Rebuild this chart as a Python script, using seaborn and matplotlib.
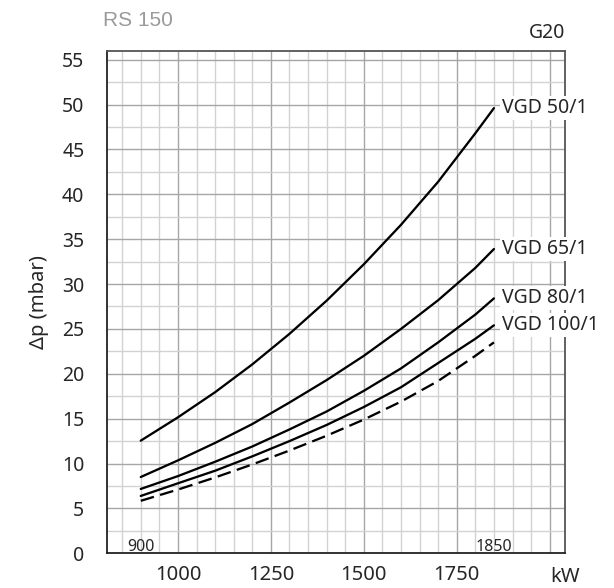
import numpy as np
import pandas as pd
import matplotlib
matplotlib.use("Agg")
import matplotlib.pyplot as plt
import seaborn as sns

# ---- data ----
power_kw = [900, 1000, 1100, 1200, 1300, 1400, 1500, 1600, 1700, 1800, 1850]
vgd_50 = [12.55, 15.15, 17.95, 21.05, 24.45, 28.15, 32.2, 36.6, 41.4, 46.8, 49.6]
vgd_65 = [8.5, 10.35, 12.3, 14.4, 16.8, 19.3, 22.0, 25.0, 28.2, 31.8, 33.9]
vgd_80 = [7.17, 8.6, 10.2, 11.9, 13.8, 15.8, 18.1, 20.6, 23.5, 26.6, 28.4]
vgd_100 = [6.39, 7.8, 9.2, 10.8, 12.5, 14.3, 16.3, 18.5, 21.2, 23.9, 25.4]
head = [5.85, 7.1, 8.45, 9.9, 11.45, 13.1, 14.9, 16.9, 19.2, 22.0, 23.5]
series_names = ["VGD 50/1", "VGD 65/1", "VGD 80/1", "VGD 100/1", "head"]
y_ticks = [0, 5, 10, 15, 20, 25, 30, 35, 40, 45, 50, 55]
x_ticks = [1000, 1250, 1500, 1750]
x_marks = [900, 1850]

sns.set_theme(style="white")
plt.rcParams["font.family"] = ["Noto Sans", "DejaVu Sans"]

frames = []
for name, vals in zip(series_names, [vgd_50, vgd_65, vgd_80, vgd_100, head]):
    frames.append(pd.DataFrame({"kW": power_kw, "dp": vals, "series": name}))
df = pd.concat(frames, ignore_index=True)

W, H = 614, 588
fig = plt.figure(figsize=(W / 100, H / 100), dpi=100)
ax_left, ax_right, ax_top, ax_bottom = 107.3, 565.3, 50.7, 553.3
ax = fig.add_axes([ax_left / W, 1 - ax_bottom / H,
                   (ax_right - ax_left) / W, (ax_bottom - ax_top) / H])

# grid
for x in np.arange(850, 2041, 50):
    dark = (x % 250 == 0)
    ax.axvline(x, color="#a6a6a6" if dark else "#d2d2d2", lw=1.0, zorder=0)
for y in np.arange(2.5, 56, 2.5):
    dark = (y % 5 == 0)
    ax.axhline(y, color="#a6a6a6" if dark else "#d2d2d2", lw=1.0, zorder=0)

palette = {n: "black" for n in series_names}
dashes = {n: "" for n in series_names}
dashes["head"] = (6, 2.8)
sns.lineplot(data=df, x="kW", y="dp", hue="series", style="series",
             palette=palette, dashes=dashes, linewidth=1.65, legend=False,
             ax=ax, zorder=3, sort=False)

ax.set_xlim(810, 2042)
ax.set_ylim(0, 56)

ax.set_xticks(x_ticks)
ax.set_xticks(x_marks, minor=True)
ax.set_xticklabels([str(v) for v in x_ticks])
ax.set_yticks(y_ticks)
ax.set_yticklabels([str(v) for v in y_ticks])
ax.tick_params(axis="y", which="major", direction="inout", length=16, width=1.0,
               color="black", labelsize=14, pad=8.5)
ax.tick_params(axis="x", which="major", direction="inout", length=10.5, width=1.0,
               color="#222222", labelsize=14.5, pad=3.5)
ax.tick_params(axis="x", which="minor", direction="out", length=8.5, width=1.0,
               color="#222222")
ax.set_xlabel("")
ax.set_ylabel("Δp (mbar)", fontsize=14.5, labelpad=9.5)

for s in ["left", "bottom"]:
    ax.spines[s].set_color("#222222")
    ax.spines[s].set_linewidth(1.3)
for s in ["top", "right"]:
    ax.spines[s].set_color("#555555")
    ax.spines[s].set_linewidth(1.3)

# small labels for 900 / 1850 inside plot
for v in x_marks:
    ax.annotate(str(v), xy=(v, 0), xycoords=("data", "axes fraction"),
                xytext=(0, 1.8), textcoords="offset points",
                ha="center", va="baseline", fontsize=11.5, zorder=5)

# curve labels
for name, vals in zip(series_names[:4], [vgd_50, vgd_65, vgd_80, vgd_100]):
    ax.annotate(name, xy=(power_kw[-1], vals[-1]), xytext=(6, 0),
                textcoords="offset points", ha="left", va="center",
                fontsize=14, zorder=6, annotation_clip=False,
                bbox=dict(boxstyle="square,pad=0.1", fc="white", ec="none"))

ax_h = ax_bottom - ax_top
ax.text(1.0, -(567 - ax_bottom) / ax_h, "kW", transform=ax.transAxes,
        ha="center", va="top", fontsize=14.5)
ax.text(1.0, 1 + (ax_top - 38) / ax_h, "G20", transform=ax.transAxes,
        ha="right", va="baseline", fontsize=14)
fig.text(103 / W, 1 - 26 / H, "RS 150", ha="left", va="baseline",
         fontsize=15, color="#9a9a9a", family="Liberation Sans")

fig.savefig("out.png", dpi=100)
